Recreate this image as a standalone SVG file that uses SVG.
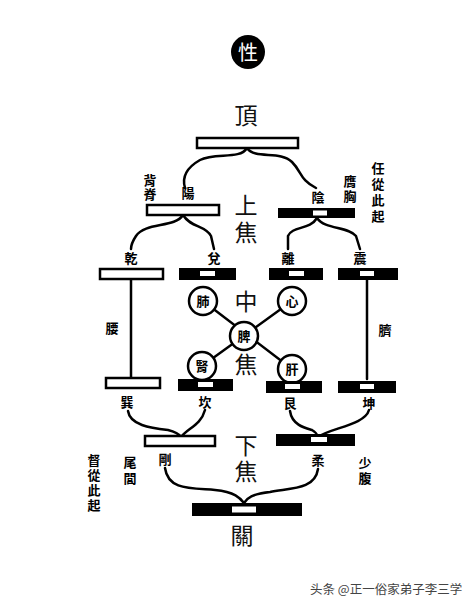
<svg xmlns="http://www.w3.org/2000/svg" width="466" height="608" viewBox="0 0 466 608">
<style>
.bw{fill:#fff;stroke:#000;stroke-width:2.5}
.bb{fill:#000}
.bc{fill:#fff}
.big{font-family:"Noto Sans CJK TC","Noto Sans CJK SC",sans-serif;font-size:23px;fill:#111;text-anchor:middle}
.lab{font-family:"Noto Sans CJK TC","Noto Sans CJK SC",sans-serif;font-size:13px;font-weight:bold;fill:#000;text-anchor:middle}
.vt{font-family:"Noto Sans CJK TC","Noto Sans CJK SC",sans-serif;font-size:13px;font-weight:bold;fill:#000;writing-mode:vertical-rl;text-anchor:start}
.vbig{font-family:"Noto Sans CJK TC","Noto Sans CJK SC",sans-serif;font-size:23px;fill:#111;writing-mode:vertical-rl;text-anchor:start}
.cir{fill:#fff;stroke:#000;stroke-width:2.5}
.con{fill:none;stroke:#000;stroke-width:2.5;stroke-linecap:round}
.wm{font-family:"Noto Sans CJK SC",sans-serif;font-size:12.5px;fill:#444}
</style>
<rect width="466" height="608" fill="#fff"/>
<g id="connectors">
<path class="con" d="M247,148 C240,160 215,152 200,160 C186,168 182,178 185,188"/>
<path class="con" d="M247,148 C255,160 280,150 292,162 C302,172 300,180 316,188"/>
<path class="con" d="M183,215 C175,228 145,222 136,236 C132,242 131,246 131,249"/>
<path class="con" d="M183,215 C191,228 205,225 211,236 L214,249"/>
<path class="con" d="M317,218 C310,230 292,226 288,236 L288,249"/>
<path class="con" d="M317,218 C325,230 348,226 356,236 L360,249"/>
<line class="con" x1="131" y1="280" x2="131" y2="378"/>
<line class="con" x1="367" y1="280" x2="367" y2="379"/>
<line class="con" x1="203" y1="301" x2="292" y2="369"/>
<line class="con" x1="292" y1="301" x2="202" y2="366"/>
<path class="con" d="M128,411 C130,425 150,428 168,430 C176,432 179,434 181,437"/>
<path class="con" d="M205,410 C201,425 188,428 181,437"/>
<path class="con" d="M290,411 C292,425 305,428 312,430 C316,432 317,434 318,437"/>
<path class="con" d="M369,410 C365,425 330,428 318,437"/>
<path class="con" d="M165,468 C168,490 190,488 215,490 C235,492 240,498 244,503"/>
<path class="con" d="M318,469 C315,490 290,488 270,492 C252,494 247,498 244,503"/>
</g>
<g id="xing"><circle cx="248" cy="52" r="17" fill="#000"/><text class="big" x="248" y="60" style="fill:#fff;font-size:20px">性</text></g>
<g id="ding"><text class="big" x="246" y="124">頂</text></g>
<g id="top-bar"><rect class="bw" x="197" y="138" width="101" height="10"/></g>
<g id="shangjiao"><text class="vbig" x="246" y="193.5" style="letter-spacing:4px">上焦</text></g>
<g id="yang-bar"><rect class="bw" x="147" y="205" width="72" height="10"/></g>
<g id="yang"><text class="lab" x="188" y="198">陽</text></g>
<g id="beiji"><text class="vt" x="150" y="173.5" style="letter-spacing:1px">背脊</text></g>
<g id="yin-bar"><rect class="bb" x="278" y="208" width="77" height="10"/><rect class="bc" x="313" y="210.5" width="14" height="5"/></g>
<g id="yin"><text class="lab" x="318" y="202">陰</text></g>
<g id="yingxiong"><text class="vt" x="350" y="174.5" style="letter-spacing:2px">膺胸</text></g>
<g id="renmai"><text class="vt" x="378" y="161.5" style="letter-spacing:3px">任從此起</text></g>
<g id="qian"><text class="lab" x="131" y="263">乾</text><rect class="bw" x="100" y="269" width="63" height="10"/></g>
<g id="dui"><text class="lab" x="214" y="263">兌</text><rect class="bb" x="179" y="268" width="57" height="12"/><rect class="bc" x="200" y="271" width="15" height="5"/></g>
<g id="li"><text class="lab" x="288" y="263">離</text><rect class="bb" x="269" y="268" width="54" height="12"/><rect class="bc" x="289" y="271" width="15" height="5"/></g>
<g id="zhen"><text class="lab" x="360" y="263">震</text><rect class="bb" x="338" y="268" width="60" height="12"/><rect class="bc" x="360" y="271" width="14" height="5"/></g>
<g id="yao"><text class="lab" x="112" y="333">腰</text></g>
<g id="qi"><text class="lab" x="385" y="335">臍</text></g>
<g id="zhongjiao"><text class="big" x="246" y="310">中</text><text class="big" x="246" y="373">焦</text></g>
<g id="fei"><circle class="cir" cx="203" cy="301" r="14"/><text class="lab" x="203" y="306">肺</text></g>
<g id="xin"><circle class="cir" cx="292" cy="301" r="14"/><text class="lab" x="292" y="306">心</text></g>
<g id="pi"><circle class="cir" cx="244" cy="336" r="14"/><text class="lab" x="244" y="341">脾</text></g>
<g id="shen"><circle class="cir" cx="202" cy="366" r="14"/><text class="lab" x="202" y="371">腎</text></g>
<g id="gan"><circle class="cir" cx="292" cy="369" r="14"/><text class="lab" x="292" y="374">肝</text></g>
<g id="xun"><rect class="bw" x="106" y="378" width="54" height="10"/><text class="lab" x="127" y="407">巽</text></g>
<g id="kan"><rect class="bb" x="178" y="379" width="55" height="12"/><rect class="bc" x="198" y="382" width="15" height="5"/><text class="lab" x="205" y="407">坎</text></g>
<g id="gen"><rect class="bb" x="266" y="381" width="56" height="12"/><rect class="bc" x="285" y="384" width="15" height="5"/><text class="lab" x="290" y="408">艮</text></g>
<g id="kun"><rect class="bb" x="338" y="381" width="58" height="12"/><rect class="bc" x="360" y="384" width="14" height="5"/><text class="lab" x="369" y="408">坤</text></g>
<g id="gang-bar"><rect class="bw" x="145" y="436" width="70" height="10"/></g>
<g id="rou-bar"><rect class="bb" x="276" y="434" width="79" height="12"/><rect class="bc" x="311" y="437" width="16" height="5"/></g>
<g id="xiajiao"><text class="vbig" x="246" y="433.5" style="letter-spacing:3px">下焦</text></g>
<g id="gang"><text class="lab" x="165" y="464">剛</text></g>
<g id="rou"><text class="lab" x="318" y="465">柔</text></g>
<g id="weilv"><text class="vt" x="130" y="455.5" style="letter-spacing:3px">尾閭</text></g>
<g id="dumai"><text class="vt" x="94" y="453.5" style="letter-spacing:2px">督從此起</text></g>
<g id="shaofu"><text class="vt" x="365" y="456.5" style="letter-spacing:2px">少腹</text></g>
<g id="guan-bar"><rect class="bb" x="192" y="503" width="110" height="13"/><rect class="bc" x="232" y="506.5" width="24" height="6"/></g>
<g id="guan"><text class="big" x="242" y="544">關</text></g>
<text class="wm" x="310" y="594">头条 @正一俗家弟子李三学</text>
</svg>
